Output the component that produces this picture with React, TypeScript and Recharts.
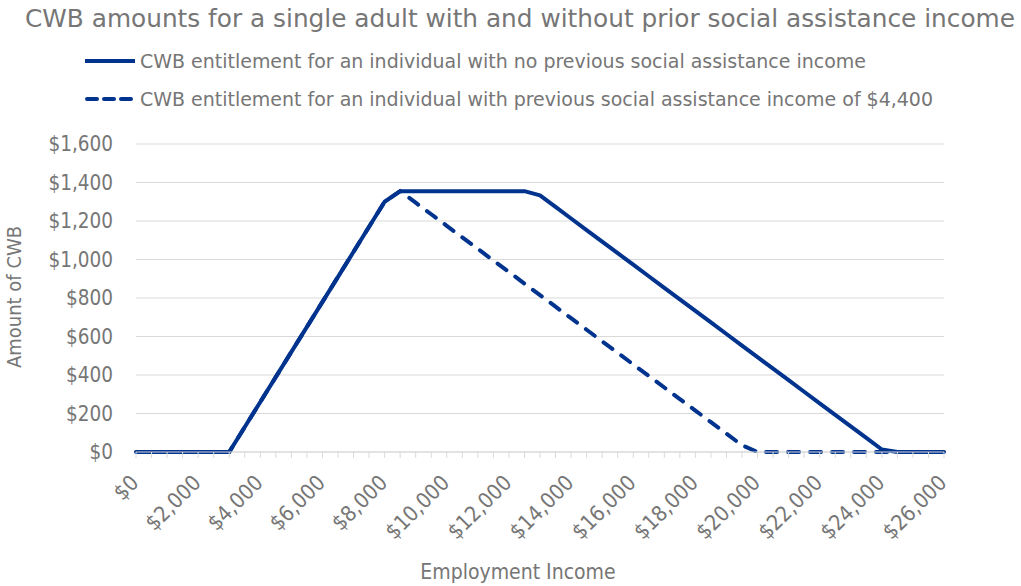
import React from 'react';
import { LineChart, Line, XAxis, YAxis, CartesianGrid } from 'recharts';

const incomes = [
  0, 500, 1000, 1500, 2000, 2500, 3000, 3500, 4000, 4500, 5000, 5500, 6000, 6500,
  7000, 7500, 8000, 8500, 9000, 9500, 10000, 10500, 11000, 11500, 12000, 12500,
  13000, 13500, 14000, 14500, 15000, 15500, 16000, 16500, 17000, 17500, 18000,
  18500, 19000, 19500, 20000, 20500, 21000, 21500, 22000, 22500, 23000, 23500,
  24000, 24500, 25000, 25500, 26000,
];

const noPriorSA = [
  0, 0, 0, 0, 0, 0, 0, 130, 260, 390, 520, 650, 780, 910,
  1040, 1170, 1300, 1355, 1355, 1355, 1355, 1355, 1355, 1355, 1355, 1355,
  1333, 1273, 1213, 1153, 1093, 1033, 973, 913, 853, 793, 733,
  673, 613, 553, 493, 433, 373, 313, 253, 193, 133, 73,
  13, 0, 0, 0, 0,
];

const withPriorSA = [
  0, 0, 0, 0, 0, 0, 0, 130, 260, 390, 520, 650, 780, 910,
  1040, 1170, 1300, 1355, 1295, 1235, 1175, 1115, 1055, 995, 935, 875,
  815, 755, 695, 635, 575, 515, 455, 395, 335, 275, 215,
  155, 95, 35, 0, 0, 0, 0, 0, 0, 0, 0,
  0, 0, 0, 0, 0,
];

const yTicks = [0, 200, 400, 600, 800, 1000, 1200, 1400, 1600];

const titleText = 'CWB amounts for a single adult with and without prior social assistance income';
const seriesNames = [
  'CWB entitlement for an individual with no previous social assistance income',
  'CWB entitlement for an individual with previous social assistance income of $4,400',
];
const xTitle = 'Employment Income';
const yTitle = 'Amount of CWB';

const data = incomes.map((inc, i) => ({
  income: inc,
  none: noPriorSA[i],
  prior: withPriorSA[i],
}));

const NAVY = '#00338D';
const TEXT = '#767676';
const GRID = '#d9d9d9';
const FONT = "'DejaVu Sans Condensed', 'DejaVu Sans', sans-serif";

const money = (v: number) => '$' + v.toLocaleString('en-US');

const XTick = (props: any) => {
  const { x, y, payload } = props;
  const v = payload.value as number;
  if (v % 2000 !== 0) return <g />;
  const ax = x + 4;
  const ay = y + 26;
  return (
    <text
      x={ax}
      y={ay}
      transform={`rotate(-45, ${ax}, ${ay})`}
      textAnchor="end"
      fill={TEXT}
      fontSize={21.5}
      fontFamily={FONT}
    >
      {money(v)}
    </text>
  );
};

export default function App() {
  return (
    <div style={{ position: 'absolute', left: 0, top: 0, width: 1021, height: 586, background: '#fff' }}>
      <LineChart
        width={1021}
        height={586}
        data={data}
        margin={{ top: 144, right: 77, bottom: 34, left: 0 }}
      >
        <CartesianGrid vertical={false} stroke={GRID} strokeWidth={1} />
        <XAxis
          dataKey="income"
          type="category"
          interval={0}
          tick={<XTick />}
          tickSize={6}
          tickMargin={0}
          height={100}
          axisLine={{ stroke: GRID }}
          tickLine={{ stroke: GRID }}
        />
        <YAxis
          width={136}
          domain={[0, 1600]}
          ticks={yTicks}
          tickFormatter={money}
          axisLine={false}
          tickLine={false}
          tickSize={0}
          tickMargin={23}
          tick={{ fill: TEXT, fontSize: 20.5, fontFamily: FONT }}
        />
        <Line
          type="linear"
          dataKey="prior"
          stroke={NAVY}
          strokeWidth={4}
          strokeDasharray="11 11"
          strokeLinecap="round"
          dot={false}
          isAnimationActive={false}
        />
        <Line
          type="linear"
          dataKey="none"
          stroke={NAVY}
          strokeWidth={4}
          strokeLinejoin="round"
          dot={false}
          isAnimationActive={false}
        />
      </LineChart>
      <svg
        width={1021}
        height={586}
        style={{ position: 'absolute', left: 0, top: 0, pointerEvents: 'none' }}
      >
        <text x={25} y={27} fill={TEXT} fontSize={25} fontFamily={FONT} textLength={990} lengthAdjust="spacingAndGlyphs">
          {titleText}
        </text>
        <line x1={85} y1={61} x2={135} y2={61} stroke={NAVY} strokeWidth={4} />
        <text x={140} y={68} fill={TEXT} fontSize={19} fontFamily={FONT} textLength={726} lengthAdjust="spacingAndGlyphs">
          {seriesNames[0]}
        </text>
        <line x1={87} y1={99} x2={135} y2={99} stroke={NAVY} strokeWidth={4} strokeDasharray="10 7" strokeLinecap="round" />
        <text x={140} y={106} fill={TEXT} fontSize={19} fontFamily={FONT} textLength={793} lengthAdjust="spacingAndGlyphs">
          {seriesNames[1]}
        </text>
        <text x={518} y={579} fill={TEXT} fontSize={21} fontFamily={FONT} textAnchor="middle">
          {xTitle}
        </text>
        <text
          x={21}
          y={297}
          fill={TEXT}
          fontSize={20}
          fontFamily={FONT}
          textAnchor="middle"
          transform="rotate(-90, 21, 297)"
        >
          {yTitle}
        </text>
      </svg>
    </div>
  );
}
